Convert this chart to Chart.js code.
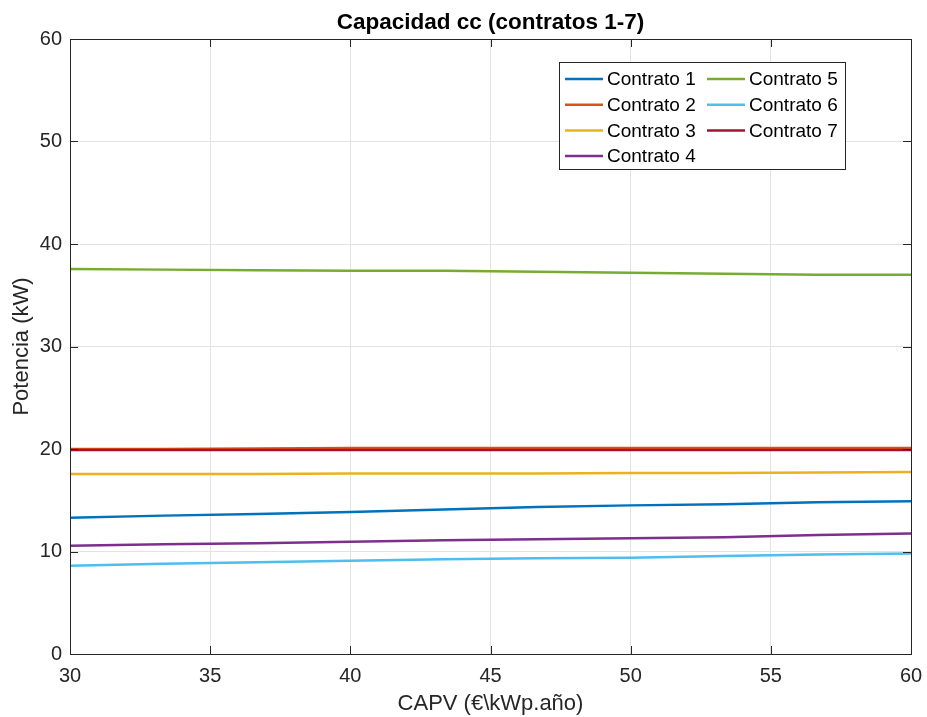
<!DOCTYPE html>
<html>
<head>
<meta charset="utf-8">
<script src="https://cdn.jsdelivr.net/npm/chart.js@4"></script>
<style>
	html, body { margin: 0; padding: 0; background: #fff; }
	#wrap { width: 927px; height: 717px; }
</style>
</head>
<body>
<div id="wrap"><canvas id="chart-area"></canvas></div>
<script>
// CAPV values (x)
var capv = [30, 33.33, 36.67, 40, 43.33, 46.67, 50, 53.33, 56.67, 60];

// Potencia (kW) for each contract
var contrato1 = [13.3, 13.5, 13.65, 13.85, 14.1, 14.35, 14.5, 14.6, 14.8, 14.9];
var contrato2 = [20.0, 20.0, 20.05, 20.1, 20.1, 20.1, 20.1, 20.1, 20.1, 20.1];
var contrato3 = [17.55, 17.55, 17.55, 17.6, 17.6, 17.6, 17.65, 17.65, 17.7, 17.75];
var contrato4 = [10.55, 10.7, 10.8, 10.95, 11.1, 11.2, 11.3, 11.4, 11.6, 11.75];
var contrato5 = [37.55, 37.5, 37.45, 37.4, 37.4, 37.3, 37.2, 37.1, 37.0, 37.0];
var contrato6 = [8.6, 8.8, 8.95, 9.1, 9.25, 9.35, 9.4, 9.55, 9.7, 9.8];
var contrato7 = [19.9, 19.9, 19.9, 19.9, 19.9, 19.9, 19.9, 19.9, 19.9, 19.9];

var seriesNames = ['Contrato 1', 'Contrato 2', 'Contrato 3', 'Contrato 4', 'Contrato 5', 'Contrato 6', 'Contrato 7'];
var seriesValues = [contrato1, contrato2, contrato3, contrato4, contrato5, contrato6, contrato7];
var colors = ['#0072BD', '#D95319', '#EDB120', '#7E2F8E', '#77AC30', '#4DBEEE', '#A2142F'];

var titleText = 'Capacidad cc (contratos 1-7)';
var axisColor = '#262626';
var fontFamily = '"Liberation Sans", Arial, Helvetica, sans-serif';

var datasets = seriesValues.map(function (vals, i) {
	return {
		label: seriesNames[i],
		data: vals.map(function (v, k) { return { x: capv[k], y: v }; }),
		borderColor: colors[i],
		backgroundColor: colors[i],
		borderWidth: 2.5,
		pointRadius: 0,
		tension: 0,
		order: 10 - i
	};
});

// title over the axes, box around the plot, inward ticks and the legend in two columns
var matlabAxes = {
	id: 'matlabAxes',
	afterDatasetsDraw: function (chart) {
		var ctx = chart.ctx;
		var a = chart.chartArea;
		var xs = chart.scales.x, ys = chart.scales.y;
		ctx.save();

		ctx.fillStyle = '#000';
		ctx.font = 'bold 22.5px ' + fontFamily;
		ctx.textAlign = 'center';
		ctx.textBaseline = 'middle';
		ctx.fillText(titleText, (a.left + a.right) / 2, 23);

		ctx.strokeStyle = axisColor;
		ctx.lineWidth = 1;
		ctx.strokeRect(Math.round(a.left) + 0.5, Math.round(a.top) + 0.5,
			Math.round(a.right - a.left), Math.round(a.bottom - a.top));
		ctx.beginPath();
		xs.ticks.forEach(function (t) {
			var px = Math.round(xs.getPixelForValue(t.value)) + 0.5;
			ctx.moveTo(px, a.bottom); ctx.lineTo(px, a.bottom - 8);
			ctx.moveTo(px, a.top); ctx.lineTo(px, a.top + 8);
		});
		ys.ticks.forEach(function (t) {
			var py = Math.round(ys.getPixelForValue(t.value)) + 0.5;
			ctx.moveTo(a.left, py); ctx.lineTo(a.left + 8, py);
			ctx.moveTo(a.right, py); ctx.lineTo(a.right - 8, py);
		});
		ctx.stroke();

		// legend
		var bx = 559.5, by = 62.5, bw = 286, bh = 107;
		ctx.fillStyle = '#fff';
		ctx.fillRect(bx, by, bw, bh);
		ctx.strokeStyle = axisColor;
		ctx.strokeRect(bx, by, bw, bh);
		ctx.font = '19px ' + fontFamily;
		ctx.textBaseline = 'middle';
		ctx.textAlign = 'left';
		chart.data.datasets.forEach(function (ds, i) {
			var col = i < 4 ? 0 : 1;
			var row = i < 4 ? i : i - 4;
			var lx = col === 0 ? 565 : 707;
			var ly = 79 + row * 25.7;
			ctx.strokeStyle = ds.borderColor;
			ctx.lineWidth = 2.5;
			ctx.beginPath();
			ctx.moveTo(lx, ly); ctx.lineTo(lx + 38, ly);
			ctx.stroke();
			ctx.fillStyle = '#000';
			ctx.fillText(ds.label, lx + 42, ly + 1);
		});
		ctx.restore();
	}
};

var config = {
	type: 'line',
	data: { datasets: datasets },
	options: {
		responsive: true,
		maintainAspectRatio: false,
		animation: false,
		layout: { padding: { left: 0, right: 16, top: 39, bottom: 0 } },
		plugins: {
			legend: { display: false },
			tooltip: { enabled: false },
			title: { display: false }
		},
		scales: {
			x: {
				type: 'linear',
				min: 30,
				max: 60,
				ticks: {
					stepSize: 5,
					color: axisColor,
					font: { family: fontFamily, size: 20 },
					padding: 10,
					maxRotation: 0
				},
				grid: { color: '#e3e3e3', drawTicks: false },
				border: { display: false },
				title: {
					display: true,
					text: 'CAPV (€\\kWp.año)',
					color: axisColor,
					font: { family: fontFamily, size: 22 },
					padding: { top: 8, bottom: 0 }
				},
				afterFit: function (scale) {
					scale.height = 63;
					scale.paddingRight = 0;
				}
			},
			y: {
				min: 0,
				max: 60,
				ticks: {
					stepSize: 10,
					color: axisColor,
					font: { family: fontFamily, size: 20 },
					padding: 8
				},
				grid: { color: '#e3e3e3', drawTicks: false },
				border: { display: false },
				title: {
					display: true,
					text: 'Potencia (kW)',
					color: axisColor,
					font: { family: fontFamily, size: 22 },
					padding: { top: 9, bottom: 4 }
				},
				afterFit: function (scale) {
					scale.width = 70;
					scale.paddingTop = 0;
				}
			}
		}
	},
	plugins: [matlabAxes]
};

var ctx = document.getElementById('chart-area').getContext('2d');
var myLineChart = new Chart(ctx, config);
</script>
</body>
</html>
